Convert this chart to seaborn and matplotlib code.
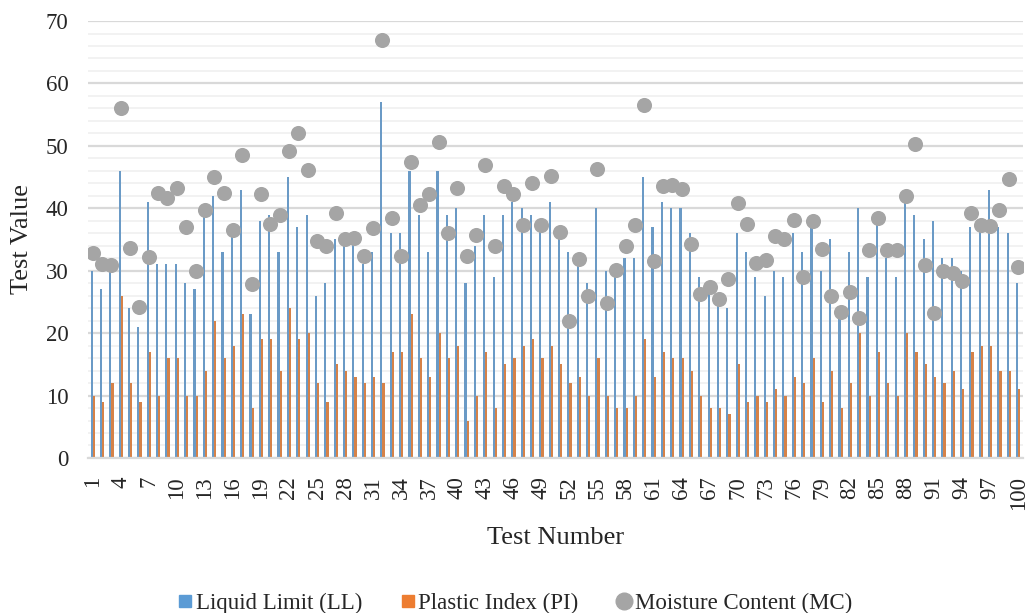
import pandas as pd
import seaborn as sns
import matplotlib.pyplot as plt
import numpy as np
from matplotlib.lines import Line2D

# Test data
test_no = list(range(1, 101))

liquid_limit = [30, 27, 30, 46, 24, 21, 41, 31, 31, 31,
                28, 27, 39, 42, 33, 36, 43, 23, 38, 39,
                33, 45, 37, 39, 26, 28, 35, 35, 35, 31,
                33, 57, 36, 36, 46, 39, 33, 46, 39, 40,
                28, 34, 39, 29, 39, 41, 40, 39, 38, 41,
                35, 33, 31, 28, 40, 30, 29, 32, 32, 45,
                37, 41, 40, 40, 36, 29, 27, 26, 24, 36,
                33, 29, 26, 30, 29, 36, 33, 37, 30, 35,
                23, 33, 40, 29, 38, 32, 29, 42, 39, 35,
                38, 32, 32, 30, 37, 37, 43, 37, 36, 28]

plastic_index = [10, 9, 12, 26, 12, 9, 17, 10, 16, 16,
                 10, 10, 14, 22, 16, 18, 23, 8, 19, 19,
                 14, 24, 19, 20, 12, 9, 15, 14, 13, 12,
                 13, 12, 17, 17, 23, 16, 13, 20, 16, 18,
                 6, 10, 17, 8, 15, 16, 18, 19, 16, 18,
                 15, 12, 13, 10, 16, 10, 8, 8, 10, 19,
                 13, 17, 16, 16, 14, 10, 8, 8, 7, 15,
                 9, 10, 9, 11, 10, 13, 12, 16, 9, 14,
                 8, 12, 20, 10, 17, 12, 10, 20, 17, 15,
                 13, 12, 14, 11, 17, 18, 18, 14, 14, 11]

moisture_content = [32.8, 31.0, 30.9, 56.1, 33.6, 24.2, 32.2, 42.5, 41.6, 43.3,
                     37.0, 29.9, 39.8, 45.0, 42.5, 36.5, 48.5, 27.9, 42.3, 37.5,
                     38.9, 49.2, 52.0, 46.1, 34.7, 34.0, 39.2, 35.1, 35.3, 32.3,
                     36.8, 67.0, 38.5, 32.4, 47.4, 40.5, 42.3, 50.6, 36.0, 43.3,
                     32.4, 35.8, 47.0, 33.9, 43.6, 42.3, 37.4, 44.0, 37.3, 45.2,
                     36.2, 21.9, 31.8, 25.9, 46.3, 24.8, 30.1, 34.0, 37.3, 56.5,
                     31.5, 43.6, 43.8, 43.1, 34.2, 26.3, 27.4, 25.4, 28.7, 40.9,
                     37.5, 31.2, 31.7, 35.5, 35.0, 38.1, 29.0, 37.9, 33.5, 26.0,
                     23.4, 26.6, 22.5, 33.3, 38.5, 33.3, 33.3, 41.9, 50.3, 30.9,
                     23.3, 30.0, 29.6, 28.3, 39.3, 37.4, 37.1, 39.7, 44.7, 30.6]

series_names = ["Liquid Limit (LL)", "Plastic Index (PI)", "Moisture Content (MC)"]
colors = ["#5B9BD5", "#ED7D31", "#A5A5A5"]

df = pd.DataFrame({"Test": test_no, series_names[0]: liquid_limit,
                   series_names[1]: plastic_index})
df_long = df.melt(id_vars="Test", var_name="Property", value_name="Value")

sns.set_style("white")
plt.rcParams["font.family"] = ["Liberation Serif", "DejaVu Serif"]

fig, ax = plt.subplots(figsize=(10.28, 6.13), dpi=100)
fig.subplots_adjust(left=0.0856, right=0.995, top=0.9657, bottom=0.2529)

sns.barplot(data=df_long, x="Test", y="Value", hue="Property",
            hue_order=series_names[:2], palette=colors[:2], width=0.46,
            linewidth=0, legend=False, ax=ax, zorder=2)

# moisture content as dots on the category centres
sns.scatterplot(x=np.arange(len(test_no)), y=moisture_content, color=colors[2],
                s=118, linewidth=0, ax=ax, zorder=3, legend=False)

ax.set_xlim(-0.5, 99.5)
ax.set_ylim(0, 70)
ax.set_yticks(range(0, 71, 10))
ax.set_yticks(range(0, 71, 2), minor=True)
ax.set_xticks(range(0, 100, 3))
ax.set_xticklabels([str(test_no[i]) for i in range(0, 100, 3)], rotation=90)
ax.tick_params(axis="y", which="both", length=0, pad=14, labelsize=16.5)
ax.tick_params(axis="x", length=0, pad=13, labelsize=16.5)

ax.grid(axis="y", which="major", color="#D9D9D9", linewidth=1.6, zorder=0)
ax.grid(axis="y", which="minor", color="#F2F2F2", linewidth=1.4, zorder=0)
ax.grid(axis="x", visible=False)
ax.set_axisbelow(True)
for side in ["top", "right", "left"]:
    ax.spines[side].set_visible(False)
ax.spines["bottom"].set_color("#D9D9D9")
ax.spines["bottom"].set_linewidth(1.6)

ax.set_xlabel("Test Number", fontsize=19, labelpad=12)
ax.set_ylabel("Test Value", fontsize=19, labelpad=9)

handles = [Line2D([], [], marker="s", linestyle="", color=colors[0], markersize=8),
           Line2D([], [], marker="s", linestyle="", color=colors[1], markersize=8),
           Line2D([], [], marker="o", linestyle="", color=colors[2], markersize=12)]
fig.legend(handles, series_names, loc="lower center", bbox_to_anchor=(0.5, -0.035),
           ncol=3, frameon=False, fontsize=16.5, handletextpad=0.05,
           columnspacing=1.6, handlelength=0.8)

fig.savefig("out.png", dpi=100)
